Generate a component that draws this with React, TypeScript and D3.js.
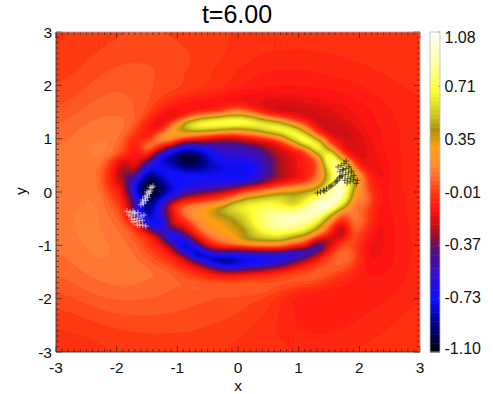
import React, { useMemo } from "react";
import * as d3 from "d3";

const xKnots = [-3,-2.6,-2.3,-2.1,-1.9,-1.7,-1.5,-1.3,-1.1,-.9,-.7,-.5,-.3,-.1,.1,.3,.5,.7,.9,1.1,1.3,1.5,1.7,1.9,2.1,2.3,2.6,3];
const yKnots = [3,2.5,2,1.7,1.5,1.4,1.3,1.2,1.1,1,.9,.8,.7,.6,.5,.4,.3,.2,.1,0,-.1,-.2,-.3,-.4,-.5,-.6,-.7,-.8,-.9,-1,-1.1,-1.2,-1.3,-1.4,-1.5,-1.7,-2,-2.5,-3];
const fieldRows = [
[-.03,-.02,-.01,0,0,0,0,0,0,0,-.01,-.01,-.02,-.02,-.03,-.03,-.03,-.03,-.03,-.03,-.03,-.03,-.03,-.03,-.02,-.02,-.02,-.02],
[-.02,0,.02,.03,.04,.04,.04,.04,.03,.02,.01,0,-.01,-.02,-.04,-.05,-.06,-.06,-.06,-.06,-.06,-.05,-.05,-.05,-.04,-.04,-.03,-.02],
[0,.03,.05,.07,.07,.07,.06,.05,.04,.02,0,-.02,-.04,-.07,-.09,-.1,-.11,-.11,-.11,-.1,-.1,-.09,-.08,-.08,-.07,-.06,-.05,-.04],
[.02,.05,.08,.09,.09,.08,.05,0,-.06,-.1,-.12,-.13,-.13,-.13,-.15,-.17,-.18,-.18,-.18,-.17,-.16,-.15,-.14,-.12,-.11,-.09,-.07,-.05],
[.03,.07,.09,.1,.1,.07,.02,-.1,-.16,-.14,-.1,-.05,0,.18,.14,-.04,-.16,-.22,-.22,-.21,-.2,-.18,-.16,-.14,-.12,-.1,-.08,-.05],
[.05,.09,.11,.12,.11,.07,-.02,-.15,-.2,0,.3,.5,.62,.66,.62,.45,.22,.05,-.1,-.2,-.22,-.2,-.18,-.15,-.13,-.1,-.08,-.05],
[.06,.1,.12,.13,.11,.05,-.08,-.2,.05,.52,.72,.76,.78,.8,.8,.72,.64,.5,.2,0,-.2,-.22,-.2,-.16,-.13,-.1,-.08,-.05],
[.07,.11,.13,.13,.1,.02,-.12,-.15,.25,.45,.62,.62,.55,.45,.45,.58,.7,.76,.6,.2,-.12,-.22,-.22,-.18,-.14,-.11,-.08,-.05],
[.08,.12,.13,.13,.09,-.02,-.12,.15,.3,.32,.2,.12,.06,.05,.1,.18,.36,.55,.78,.55,0,-.2,-.22,-.2,-.15,-.12,-.08,-.05],
[.09,.13,.14,.12,.06,-.08,-.08,.2,.18,-.05,-.12,-.18,-.28,-.3,-.2,-.12,-.08,.12,.55,.82,.45,-.05,-.2,-.2,-.16,-.12,-.08,-.05],
[.09,.13,.14,.12,.05,-.1,.18,.02,-.15,-.55,-.55,-.5,-.45,-.45,-.42,-.35,-.22,-.12,.15,.62,.75,.1,-.15,-.2,-.17,-.12,-.08,-.05],
[.09,.13,.14,.11,.02,-.14,.08,-.25,-.7,-.85,-.8,-.72,-.6,-.55,-.52,-.45,-.32,-.2,-.12,.05,.72,.42,-.1,-.2,-.17,-.13,-.08,-.05],
[.1,.13,.13,.1,0,-.14,-.1,-.65,-.85,-1,-.98,-.78,-.62,-.6,-.6,-.52,-.38,-.24,-.15,-.08,.3,.85,.12,-.18,-.17,-.13,-.09,-.05],
[.1,.13,.12,0,-.22,-.12,-.38,-.8,-.9,-1.05,-1.02,-.85,-.72,-.68,-.68,-.6,-.44,-.28,-.17,-.08,.08,.85,.5,-.05,-.17,-.14,-.09,-.05],
[.1,.13,.1,-.05,-.28,-.18,-.6,-.75,-.8,-.95,-.95,-.85,-.78,-.75,-.75,-.68,-.42,-.27,-.17,-.08,.05,.72,.9,.1,-.17,-.15,-.09,-.05],
[.11,.13,.09,-.08,-.32,-.3,-.82,-.72,-.72,-.78,-.8,-.8,-.78,-.76,-.78,-.68,-.45,-.28,-.18,-.1,.08,.6,1,.3,-.05,-.15,-.09,-.05],
[.11,.13,.09,-.08,-.35,-.5,-.95,-.85,-.72,-.72,-.72,-.72,-.72,-.72,-.72,-.6,-.42,-.28,-.2,-.1,.1,.55,.95,.45,.02,-.15,-.09,-.05],
[.12,.13,.09,-.08,-.3,-.65,-1.05,-.9,-.72,-.7,-.68,-.68,-.68,-.7,-.68,-.5,-.3,-.18,-.1,-.02,.2,.6,.95,.45,.05,-.12,-.09,-.05],
[.12,.13,.1,-.05,-.22,-.8,-1.08,-1,-.82,-.72,-.65,-.6,-.5,-.4,-.2,-.1,0,.1,.2,.3,.42,.75,1,.4,.05,-.12,-.09,-.05],
[.12,.13,.11,0,-.2,-.75,-1.08,-.95,-.75,-.55,-.4,-.32,-.22,-.1,.05,.15,.3,.4,.42,.45,.55,.85,.95,.35,.1,-.1,-.09,-.05],
[.12,.13,.12,.03,-.12,-.6,-1,-.85,-.55,-.25,-.18,-.08,0,.1,.38,.5,.55,.58,.5,.6,.85,.95,.9,.28,.12,-.1,-.1,-.05],
[.12,.13,.12,.05,-.08,-.5,-.95,-.7,-.2,.02,.08,.12,.2,.5,.62,.65,.68,.62,.5,.7,.95,1,.72,.15,.1,-.1,-.1,-.05],
[.12,.13,.13,.07,-.03,-.55,-.95,-.6,-.12,.12,.22,.35,.5,.6,.66,.72,.78,.75,.72,.85,1,.95,.4,.12,.05,-.12,-.1,-.05],
[.12,.14,.13,.08,-.02,-.55,-.85,-.62,-.2,.1,.25,.32,.42,.5,.6,.75,.82,.88,.9,.95,.92,.5,.05,.14,.02,-.12,-.1,-.05],
[.11,.14,.13,.1,.02,-.3,-.75,-.72,-.2,0,.18,.3,.35,.42,.55,.72,.82,.92,.95,.9,.75,.32,-.02,.12,.05,-.13,-.11,-.05],
[.11,.14,.13,.11,.06,-.1,-.6,-.8,-.25,-.15,.1,.25,.3,.38,.5,.72,.82,.88,.88,.8,.55,.08,-.2,.1,.0,-.14,-.11,-.05],
[.11,.14,.13,.11,.08,0,-.3,-.62,-.45,-.25,.03,.18,.28,.34,.42,.6,.76,.8,.75,.62,.35,.02,-.3,.08,-.05,-.15,-.11,-.05],
[.1,.14,.14,.12,.1,.03,-.07,-.35,-.85,-.45,-.1,.12,.25,.3,.42,.55,.65,.65,.55,.42,.1,-.15,-.25,.03,-.08,-.15,-.11,-.05],
[.1,.14,.14,.12,.1,.06,-.03,-.2,-.65,-.75,-.3,-.05,.1,.2,.42,.42,.42,.42,.2,.05,-.25,-.28,-.08,.05,-.1,-.16,-.11,-.05],
[.1,.13,.14,.13,.11,.08,0,-.12,-.35,-.88,-.6,-.15,-.02,.05,.05,.15,.15,.1,0,-.1,-.55,-.2,.05,0,-.12,-.17,-.11,-.05],
[.09,.13,.14,.13,.12,.09,.03,-.05,-.2,-.7,-.85,-.6,-.4,-.5,-.45,-.42,-.4,-.42,-.55,-.65,-.45,-.08,.08,.04,-.15,-.17,-.11,-.05],
[.09,.13,.14,.13,.12,.1,.06,0,-.1,-.25,-.88,-.85,-.82,-.78,-.75,-.75,-.72,-.72,-.7,-.45,-.18,.02,.1,.05,-.12,-.17,-.11,-.05],
[.08,.12,.13,.13,.12,.11,.08,.04,-.02,-.15,-.35,-.75,-.95,-.9,-.8,-.75,-.72,-.6,-.38,-.2,-.05,.05,.08,.03,-.13,-.17,-.11,-.05],
[.07,.11,.13,.13,.12,.12,.1,.07,.03,-.05,-.15,-.3,-.6,-.7,-.6,-.55,-.42,-.3,-.15,-.05,.03,.07,.06,0,-.14,-.16,-.1,-.05],
[.06,.1,.12,.13,.12,.12,.11,.09,.07,.02,-.05,-.12,-.18,-.2,-.15,-.12,-.08,-.03,.02,.05,.07,.05,.02,-.06,-.14,-.15,-.1,-.05],
[.05,.09,.11,.12,.12,.11,.1,.09,.08,.07,.07,.06,.06,.06,.06,.06,.05,.05,.04,.03,.01,-.04,-.08,-.11,-.12,-.12,-.09,-.05],
[.01,.04,.06,.07,.07,.07,.07,.07,.06,.05,.05,.05,.04,.04,.03,.02,0,-.05,-.1,-.14,-.16,-.16,-.14,-.12,-.1,-.09,-.07,-.04],
[-.02,-.01,0,.01,.02,.02,.02,.02,.02,.02,.02,.01,0,-.01,-.02,-.03,-.05,-.07,-.09,-.1,-.1,-.09,-.08,-.07,-.06,-.05,-.04,-.03],
[-.05,-.05,-.04,-.03,-.03,-.02,-.02,-.02,-.02,-.02,-.02,-.02,-.03,-.03,-.03,-.03,-.03,-.03,-.03,-.04,-.04,-.04,-.04,-.04,-.04,-.04,-.04,-.04],
];

const colorValues = [-1.1,-.9,-.73,-.55,-.4,-.3,-.2,-.12,0,.12,.2,.3,.42,.5,.68,.85,1.08];
const colorHexes = ["#000000","#00008a","#1010ff","#3a10c0","#50107a","#a01020","#d81010","#ff1410","#ff3c10","#ff7a35","#ff9030","#ffa010","#a89010","#c8c020","#ffff30","#ffffa0","#ffffff"];

const axisTicks = [-3,-2,-1,0,1,2,3];
const barTickValues = [1.08,.71,.35,-.01,-.37,-.73,-1.1];
const barTickLabels = ["1.08","0.71","0.35","-0.01","-0.37","-0.73","-1.10"];
const titleText = "t=6.00";

const whiteX = [-1.42,-1.4,-1.47,-1.44,-1.5,-1.46,-1.53,-1.49,-1.57,-1.52,-1.6,-1.56,-1.45,-1.5,-1.53,-1.57,-1.83,-1.78,-1.73,-1.8,-1.75,-1.7,-1.65,-1.76,-1.71,-1.66,-1.6,-1.55,-1.73,-1.68,-1.63,-1.58,-1.66,-1.62,-1.57,-1.52,-1.71];
const whiteY = [.08,.11,0,.02,-.06,-.03,-.13,-.1,-.19,-.16,-.24,-.22,.09,0,-.08,-.15,-.36,-.38,-.36,-.43,-.45,-.41,-.39,-.51,-.51,-.49,-.45,-.43,-.56,-.56,-.54,-.53,-.62,-.62,-.62,-.64,-.39];
const blackX = [1.31,1.36,1.41,1.46,1.5,1.55,1.6,1.64,1.67,1.7,1.43,1.53,1.62,1.68,1.65,1.7,1.75,1.68,1.73,1.78,1.83,1.72,1.77,1.82,1.87,1.76,1.81,1.86,1.91,1.97,1.8,1.85,1.9,1.95,1.73,1.78];
const blackY = [-.02,0,.03,.06,.09,.13,.17,.22,.26,.3,.02,.11,.2,.28,.47,.5,.53,.38,.41,.44,.47,.3,.33,.36,.39,.22,.25,.28,.31,.22,.17,.2,.23,.16,.42,.58];

const W = 493, H = 394;
const L = 56, R = 420, T = 32, B = 352;
const barL = 430, barR = 440;
const sans = "'Liberation Sans', Arial, Helvetica, sans-serif";

const kernel = (t: number) => {
  const t2 = t * t, t3 = t2 * t;
  return [-0.5 * t3 + t2 - 0.5 * t, 1.5 * t3 - 2.5 * t2 + 1, -1.5 * t3 + 2 * t2 + 0.5 * t, 0.5 * t3 - 0.5 * t2];
};

export default function App() {
  const x = d3.scaleLinear().domain([-3, 3]).range([L, R]);
  const y = d3.scaleLinear().domain([-3, 3]).range([B, T]);
  const color = d3.scaleLinear<string>().domain(colorValues).range(colorHexes).interpolate(d3.interpolateRgb);
  const barY = d3.scaleLinear().domain([-1.1, 1.08]).range([B, T]);
  const levels = d3.range(-1.1, 1.08, 0.03);

  const bands = useMemo(() => {
    const nx = 242, ny = 214;
    const xAt = d3.scaleLinear().domain(xKnots).range(xKnots.map((_, i) => i));
    const yAt = d3.scaleLinear().domain(yKnots).range(yKnots.map((_, i) => i));
    const ncol = xKnots.length, nrow = yKnots.length;
    const vals = new Float64Array(nx * ny);
    for (let j = 0; j < ny; j++) {
      const gy = yAt(3 - (6 * j) / (ny - 1));
      const j0 = Math.min(Math.floor(gy), nrow - 2), wy = kernel(gy - j0);
      for (let i = 0; i < nx; i++) {
        const gx = xAt(-3 + (6 * i) / (nx - 1));
        const i0 = Math.min(Math.floor(gx), ncol - 2), wx = kernel(gx - i0);
        let s = 0;
        for (let b = 0; b < 4; b++) {
          const row = fieldRows[Math.max(0, Math.min(nrow - 1, j0 + b - 1))];
          for (let a = 0; a < 4; a++) s += wy[b] * wx[a] * row[Math.max(0, Math.min(ncol - 1, i0 + a - 1))];
        }
        vals[j * nx + i] = Math.max(-1.1, Math.min(1.08, s));
      }
    }
    const soft = Float64Array.from(vals);
    d3.blur2({ data: soft, width: nx, height: ny }, 10);
    d3.blur2({ data: vals, width: nx, height: ny }, 1.6);
    for (let j = 0; j < ny; j++) {
      for (let i = 0; i < nx; i++) {
        const ex = (i / (nx - 1) - 0.5) * 6 / 2.5, ey = (j / (ny - 1) - 0.5) * 6 / 1.9;
        const r = Math.sqrt(ex * ex + ey * ey);
        const t = Math.max(0, Math.min(1, (r - 1) / 0.25));
        vals[j * nx + i] = vals[j * nx + i] * (1 - t) + soft[j * nx + i] * t;
      }
    }
    const sx = (v: number) => L + ((R - L) * v) / (nx - 1);
    const sy = (v: number) => T + ((B - T) * v) / (ny - 1);
    const path = d3.geoPath(d3.geoTransform({ point(a: number, b: number) { (this as any).stream.point(sx(a), sy(b)); } }));
    return d3.contours().size([nx, ny]).smooth(true).thresholds(levels)(Array.from(vals) as any).map((c) => ({ v: c.value, d: path(c as any) || "" }));
  }, []);

  const minor = d3.range(-3, 3.001, 0.1).map((v) => +v.toFixed(1));
  const tickColor = "#222";
  return (
    <svg width={W} height={H} viewBox={`0 0 ${W} ${H}`} style={{ position: "absolute", left: 0, top: 0, background: "#fff" }}>
      <defs><clipPath id="plot"><rect x={L} y={T} width={R - L} height={B - T} /></clipPath></defs>
      <text x={237} y={23} textAnchor="middle" fontFamily={sans} fontSize={25}>{titleText}</text>
      <g clipPath="url(#plot)">
        <rect x={L} y={T} width={R - L} height={B - T} fill={color(-1.1)} />
        {bands.map((b, i) => <path key={i} d={b.d} fill={color(b.v + 0.015)} />)}
      </g>
      <g clipPath="url(#plot)" fill="none" strokeWidth={0.7}>
        {whiteX.map((v, i) => <path key={i} stroke="#fff" strokeOpacity={0.8} d={`M${x(v) - 3},${y(whiteY[i])}h6M${x(v)},${y(whiteY[i]) - 3}v6`} />)}
        {blackX.map((v, i) => <path key={i} stroke="#111" strokeOpacity={0.85} d={`M${x(v) - 3},${y(blackY[i])}h6M${x(v)},${y(blackY[i]) - 3}v6`} />)}
      </g>
      <g stroke={tickColor} strokeWidth={0.7} fill="none">
        {minor.map((v) => {
          const major = Number.isInteger(v);
          const n = major ? 6 : 3;
          return <g key={v}>
            <path d={`M${x(v)},${B}v${-n}M${x(v)},${T}v${n}`} />
            <path d={`M${L},${y(v)}h${n}M${R},${y(v)}h${-n}`} />
          </g>;
        })}
      </g>
      <path d={`M${L},${T}V${B}H${R}`} fill="none" stroke="#333" strokeWidth={0.9} />
      <path d={`M${L},${T}H${R}V${B}`} fill="none" stroke="#aaa" strokeWidth={0.9} />
      <g fontFamily={sans} fontSize={15.5} fill="#111">
        {axisTicks.map((t) => <text key={t} x={x(t)} y={373} textAnchor="middle">{t}</text>)}
        {axisTicks.map((t) => <text key={t} x={52} y={y(t) + 5.5} textAnchor="end">{t}</text>)}
        <text x={238} y={391} textAnchor="middle">x</text>
        <text transform={`translate(26,191) rotate(-90)`} textAnchor="middle">y</text>
      </g>
      <g>
        {levels.map((v) => <rect key={v} x={barL} width={barR - barL} y={barY(v + 0.03)} height={barY(v) - barY(v + 0.03) + 0.5} fill={color(v + 0.015)} />)}
        <rect x={barL} y={T} width={barR - barL} height={B - T} fill="none" stroke="#bbb" strokeWidth={0.8} />
      </g>
      <g fontFamily={sans} fontSize={16} fill="#111">
        {barTickValues.map((v, i) => <g key={v}>
          <path d={`M${barR - 2},${barY(v)}h2`} stroke="#888" strokeWidth={0.6} />
          <text x={444.5} y={barY(v) + 5.5 + (i === 0 ? 5 : i === barTickValues.length - 1 ? -4 : 0)}>{barTickLabels[i]}</text>
        </g>)}
      </g>
    </svg>
  );
}
